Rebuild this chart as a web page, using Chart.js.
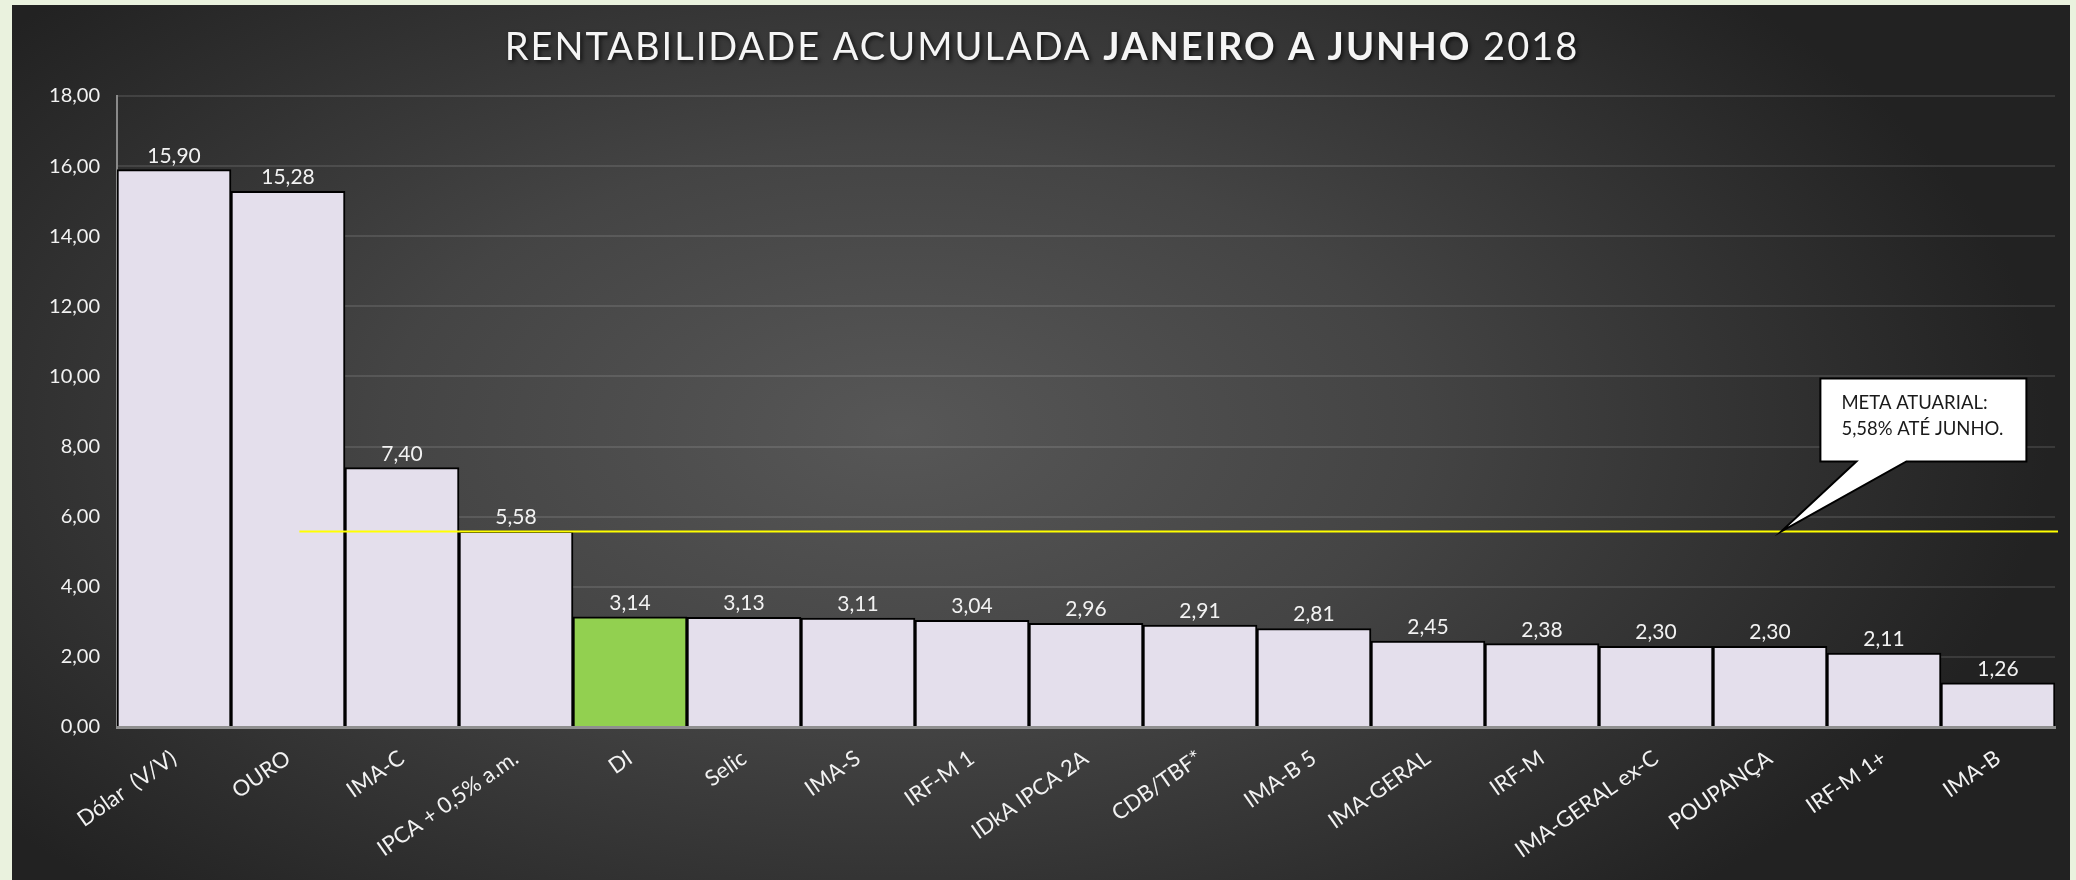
<!DOCTYPE html>
<html>
<head>
<meta charset="utf-8">
<script src="https://cdn.jsdelivr.net/npm/chart.js@4/dist/chart.umd.min.js"></script>
<style>
  html, body { margin: 0; padding: 0; background: #eaf2de; }
  #c { display: block; }
</style>
</head>
<body>
<canvas id="c" width="2076" height="880"></canvas>
<script>
// ---- Data ----
const categories = ["Dólar  (V/V)", "OURO", "IMA-C", "IPCA + 0,5% a.m.", "DI", "Selic", "IMA-S",
  "IRF-M 1", "IDkA IPCA 2A", "CDB/TBF*", "IMA-B 5", "IMA-GERAL", "IRF-M", "IMA-GERAL ex-C",
  "POUPANÇA", "IRF-M 1+", "IMA-B"];
const rentabilidade = [15.90, 15.28, 7.40, 5.58, 3.14, 3.13, 3.11, 3.04, 2.96, 2.91, 2.81,
  2.45, 2.38, 2.30, 2.30, 2.11, 1.26];
const yTicks = [0, 2, 4, 6, 8, 10, 12, 14, 16, 18];
const metaAtuarial = 5.58;
const highlighted = ["DI"];
const titleParts = [
  { text: "RENTABILIDADE ACUMULADA ", bold: false },
  { text: "JANEIRO A JUNHO", bold: true },
  { text: " 2018", bold: false }
];
const calloutLines = ["META ATUARIAL:", "5,58% ATÉ JUNHO."];

const fmt = v => v.toFixed(2).replace('.', ',');
const FONT = "Lato, 'Open Sans', sans-serif";

const backgroundPlugin = {
  id: 'bg',
  beforeDraw(chart) {
    const ctx = chart.ctx;
    ctx.save();
    ctx.fillStyle = '#eaf2de';
    ctx.fillRect(0, 0, chart.width, chart.height);
    ctx.beginPath();
    ctx.rect(12, 5, 2058, chart.height - 5);
    ctx.clip();
    ctx.translate(900, 430);
    ctx.scale(1, 0.55);
    const g = ctx.createRadialGradient(0, 0, 0, 0, 0, 1150);
    g.addColorStop(0, '#575757');
    g.addColorStop(0.45, '#444444');
    g.addColorStop(1, '#222222');
    ctx.fillStyle = g;
    ctx.fillRect(-1200, -1200, 2600, 2600);
    ctx.restore();
  }
};

const overlayPlugin = {
  id: 'overlay',
  afterDatasetsDraw(chart) {
    const ctx = chart.ctx;
    const xs = chart.scales.x, ys = chart.scales.y;
    const meta = chart.getDatasetMeta(0);
    // value labels
    ctx.save();
    ctx.font = `21px ${FONT}`;
    ctx.fillStyle = '#f2f2f2';
    ctx.textAlign = 'center';
    ctx.textBaseline = 'alphabetic';
    meta.data.forEach((bar, i) => {
      ctx.fillText(fmt(rentabilidade[i]), bar.x, bar.y - 7);
    });
    ctx.restore();

    // meta line
    const yLine = ys.getPixelForValue(metaAtuarial);
    ctx.save();
    ctx.strokeStyle = '#ffff00';
    ctx.lineWidth = 2;
    ctx.beginPath();
    ctx.moveTo(xs.getPixelForValue(1.1), yLine);
    ctx.lineTo(chart.chartArea.right + 3, yLine);
    ctx.stroke();
    ctx.restore();

    // callout
    const tx = xs.getPixelForValue(14.1), ty = yLine;
    const L = tx + 39, R = tx + 245, T = ty - 153, B = ty - 70;
    const b1 = tx + 75, b2 = tx + 125;
    ctx.save();
    ctx.beginPath();
    ctx.moveTo(L, T);
    ctx.lineTo(R, T);
    ctx.lineTo(R, B);
    ctx.lineTo(b2, B);
    ctx.lineTo(tx, ty);
    ctx.lineTo(b1, B);
    ctx.lineTo(L, B);
    ctx.closePath();
    ctx.fillStyle = '#ffffff';
    ctx.fill();
    ctx.strokeStyle = '#000000';
    ctx.lineWidth = 2;
    ctx.lineJoin = 'miter';
    ctx.stroke();
    ctx.fillStyle = '#1a1a1a';
    ctx.font = `18.5px ${FONT}`;
    ctx.textAlign = 'left';
    ctx.textBaseline = 'alphabetic';
    ctx.fillText(calloutLines[0], tx + 60, ty - 122);
    ctx.fillText(calloutLines[1], tx + 60, ty - 96);
    ctx.restore();
  },
  afterDraw(chart) {
    const ctx = chart.ctx;
    ctx.save();
    ctx.letterSpacing = '2px';
    ctx.textBaseline = 'alphabetic';
    ctx.textAlign = 'left';
    let total = 0;
    const widths = titleParts.map(p => {
      ctx.font = `${p.bold ? 'bold ' : ''}38px ${FONT}`;
      const w = ctx.measureText(p.text).width;
      total += w;
      return w;
    });
    let x = 1042 - total / 2;
    ctx.shadowColor = 'rgba(0,0,0,0.7)';
    ctx.shadowBlur = 4;
    ctx.shadowOffsetX = 2;
    ctx.shadowOffsetY = 2;
    ctx.fillStyle = '#f5f5f5';
    titleParts.forEach((p, i) => {
      ctx.font = `${p.bold ? 'bold ' : ''}38px ${FONT}`;
      ctx.fillText(p.text, x, 60);
      x += widths[i];
    });
    ctx.restore();
  }
};

const barColors = categories.map(c => highlighted.includes(c) ? '#92d050' : '#e4dfec');

new Chart(document.getElementById('c'), {
  type: 'bar',
  data: {
    labels: categories,
    datasets: [{
      data: rentabilidade,
      backgroundColor: barColors,
      borderColor: '#000000',
      borderWidth: 2,
      barPercentage: 1,
      categoryPercentage: 1
    }]
  },
  options: {
    responsive: false,
    animation: false,
    devicePixelRatio: 1,
    layout: { padding: { top: 96, right: 21, bottom: 0, left: 0 } },
    plugins: { legend: { display: false }, tooltip: { enabled: false }, title: { display: false } },
    scales: {
      x: {
        grid: { display: false, drawTicks: false },
        border: { display: true, color: '#8f8f8f', width: 3 },
        ticks: {
          color: '#f2f2f2',
          font: { family: FONT, size: 22 },
          minRotation: 35,
          maxRotation: 35,
          padding: 18,
          autoSkip: false
        },
        afterFit: s => { s.height = 153; }
      },
      y: {
        min: 0,
        max: 18,
        afterBuildTicks: s => { s.ticks = yTicks.map(v => ({ value: v })); },
        grid: { color: 'rgba(255,255,255,0.11)', lineWidth: 2, drawTicks: false },
        border: { display: true, color: '#8a8a8a', width: 2 },
        ticks: {
          color: '#f2f2f2',
          font: { family: FONT, size: 20 },
          padding: 17,
          callback: v => fmt(v)
        },
        afterFit: s => { s.width = 117; }
      }
    }
  },
  plugins: [backgroundPlugin, overlayPlugin]
});
</script>
</body>
</html>
